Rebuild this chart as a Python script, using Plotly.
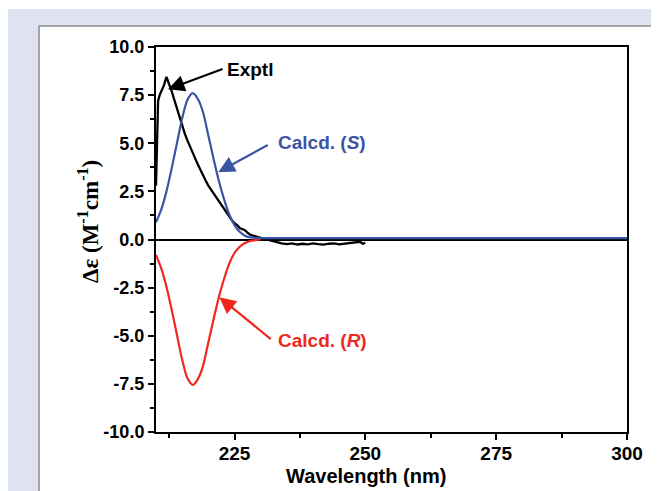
import plotly.graph_objects as go

# ---------------- data ----------------
exp_wl = [210.0, 210.2, 210.4, 210.7, 211.0, 211.5, 212.0, 212.5, 213.0, 213.5, 214.0, 214.5,
          215.0, 215.5, 216.0, 216.5, 217.0, 217.5, 218.0, 218.5, 219.0, 219.5, 220.0, 220.5,
          221.0, 221.5, 222.0, 222.5, 223.0, 223.5, 224.0, 224.5, 225.0, 225.5, 226.0, 226.5,
          227.0, 227.5, 228.0, 228.5, 229.0, 229.5, 230.0, 230.5, 231.0, 232.0, 233.0, 234.0,
          235.0, 236.0, 237.0, 238.0, 239.0, 240.0, 241.0, 242.0, 243.0, 244.0, 245.0, 246.0,
          247.0, 248.0, 249.0, 249.5, 250.0]
exp_de = [2.8, 5.5, 7.2, 7.5, 7.7, 8.0, 8.45, 8.1, 7.7, 7.25, 6.8, 6.3,
          5.9, 5.5, 5.15, 4.8, 4.5, 4.2, 3.9, 3.6, 3.3, 3.05, 2.8, 2.6,
          2.35, 2.15, 1.95, 1.75, 1.55, 1.35, 1.15, 1.0, 0.85, 0.75, 0.6, 0.52,
          0.48, 0.35, 0.25, 0.2, 0.18, 0.12, 0.08, 0.05, 0.0, -0.05, -0.12, -0.2,
          -0.24, -0.2, -0.26, -0.22, -0.25, -0.2, -0.24, -0.27, -0.22, -0.2, -0.25, -0.22,
          -0.2, -0.18, -0.12, -0.22, -0.18]

calc_s_wl = [210, 211, 212, 213, 214, 215, 216, 217, 218, 219, 220, 221, 222, 223, 224,
             225, 226, 227, 228, 229, 230, 232, 300]
calc_s = [0.9, 1.55, 2.5, 3.7, 5.0, 6.3, 7.25, 7.6, 7.3, 6.6, 5.4, 4.2, 3.05, 2.1, 1.3,
          0.75, 0.4, 0.2, 0.11, 0.08, 0.07, 0.07, 0.07]
calc_r_wl = [210, 211, 212, 213, 214, 215, 216, 217, 218, 219, 220, 221, 222, 223, 224,
             225, 226, 227, 228, 229, 230]
calc_r = [-0.8, -1.5, -2.45, -3.65, -4.95, -6.25, -7.2, -7.55, -7.25, -6.55, -5.35, -4.15,
          -3.0, -2.05, -1.25, -0.7, -0.38, -0.18, -0.08, -0.03, 0.0]

x_ticks = [225, 250, 275, 300]
x_minor = [212.5, 237.5, 262.5, 287.5]
y_ticks = [-10.0, -7.5, -5.0, -2.5, 0.0, 2.5, 5.0, 7.5, 10.0]
y_labels = ["-10.0", "-7.5", "-5.0", "-2.5", "0.0", "2.5", "5.0", "7.5", "10.0"]

BLUE = "#3a54a4"
RED = "#f0281e"
FONT = "Liberation Sans, Arial, sans-serif"

# page offset (browser body margin) and plot-area pixel geometry in page coords
OFF = 8
PW, PH = 659, 491
L, R, T, B = 156, 627, 47, 432
W, H = PW - OFF, PH - OFF

def px(xp):
    return (xp - L) / (R - L)
def py(yp):
    return (B - yp) / (B - T)

fig = go.Figure()
fig.add_trace(go.Scatter(x=calc_r_wl, y=calc_r, mode="lines", line_shape="spline",
                         line=dict(color=RED, width=2.2, smoothing=0.8), showlegend=False))
fig.add_trace(go.Scatter(x=exp_wl, y=exp_de, mode="lines",
                         line=dict(color="black", width=2.3), showlegend=False))
fig.add_trace(go.Scatter(x=calc_s_wl, y=calc_s, mode="lines", line_shape="spline",
                         line=dict(color=BLUE, width=2.2, smoothing=0.8), showlegend=False))

# background frame (lavender band + white panel with grey border)
shapes = [
    dict(type="rect", xref="paper", yref="paper", x0=px(7), x1=px(PW + 20), y0=py(PH + 20), y1=py(9),
         fillcolor="#dfe3f1", line=dict(width=0), layer="below"),
    dict(type="rect", xref="paper", yref="paper", x0=px(39), x1=px(PW + 20), y0=py(PH + 20), y1=py(26),
         fillcolor="white", line=dict(width=0), layer="below"),
    dict(type="line", xref="paper", yref="paper", x0=px(39), x1=px(39), y0=py(PH + 20), y1=py(26),
         line=dict(color="#8c8c8c", width=1.5), layer="below"),
    dict(type="line", xref="paper", yref="paper", x0=px(39), x1=px(PW + 20), y0=py(26), y1=py(26),
         line=dict(color="#8c8c8c", width=1.5), layer="below"),
]

annotations = [
    # arrows
    dict(x=212.3, y=7.8, xref="x", yref="y", ax=56, ay=-21, text="", showarrow=True,
         arrowhead=2, arrowsize=1.5, arrowwidth=2.2, arrowcolor="black"),
    dict(x=221.9, y=3.5, xref="x", yref="y", ax=51, ay=-28, text="", showarrow=True,
         arrowhead=2, arrowsize=1.5, arrowwidth=2.2, arrowcolor=BLUE),
    dict(x=222.1, y=-3.0, xref="x", yref="y", ax=53, ay=43, text="", showarrow=True,
         arrowhead=2, arrowsize=1.5, arrowwidth=2.2, arrowcolor=RED),
    # labels
    dict(x=px(225), y=py(69), xref="paper", yref="paper", xanchor="left", yanchor="middle",
         text="<b>Exptl</b>", showarrow=False, font=dict(family=FONT, size=19, color="black")),
    dict(x=px(276), y=py(142), xref="paper", yref="paper", xanchor="left", yanchor="middle",
         text="<b>Calcd. (<i>S</i>)</b>", showarrow=False, font=dict(family=FONT, size=19, color=BLUE)),
    dict(x=px(276), y=py(340), xref="paper", yref="paper", xanchor="left", yanchor="middle",
         text="<b>Calcd. (<i>R</i>)</b>", showarrow=False, font=dict(family=FONT, size=19, color=RED)),
    # x-axis title
    dict(x=px(366), y=py(476), xref="paper", yref="paper", xanchor="center", yanchor="middle",
         showarrow=False, text="<b>Wavelength (nm)</b>",
         font=dict(family=FONT, size=20, color="black")),
    # y-axis title
    dict(x=px(88), y=py(222), xref="paper", yref="paper", xanchor="center", yanchor="middle",
         textangle=-90, showarrow=False,
         text="<b>\u0394\u03b5 (M<sup>-1</sup>cm<sup>-1</sup>)</b>",
         font=dict(family="Liberation Serif, Times New Roman, serif", size=23, color="black")),
]

fig.update_layout(
    width=W, height=H,
    margin=dict(l=L - OFF, r=PW - R, t=T - OFF, b=PH - B),
    paper_bgcolor="white", plot_bgcolor="white",
    shapes=shapes, annotations=annotations,
    showlegend=False,
)

fig.update_xaxes(
    range=[210, 300], tickmode="array", tickvals=x_ticks,
    ticks="outside", ticklen=6, tickwidth=2, tickcolor="black",
    showline=True, linewidth=2, linecolor="black", mirror=True,
    showgrid=False, zeroline=False,
    minor=dict(tickmode="array", tickvals=x_minor, ticks="outside", ticklen=4,
               tickwidth=2, tickcolor="black", showgrid=False),
    tickfont=dict(family=FONT, size=19, color="black", weight="bold"),
    ticklabelstandoff=-3,
)
fig.update_yaxes(
    range=[-10, 10], tickmode="array", tickvals=y_ticks, ticktext=y_labels,
    ticks="outside", ticklen=6, tickwidth=2, tickcolor="black",
    showline=True, linewidth=2, linecolor="black", mirror=True,
    showgrid=False, zeroline=True, zerolinecolor="black", zerolinewidth=2,
    minor=dict(tick0=-10, dtick=1.25, ticks="outside", ticklen=4, tickwidth=2,
               tickcolor="black", showgrid=False),
    tickfont=dict(family=FONT, size=18, color="black", weight="bold"),
)

fig.write_html("out.html")
